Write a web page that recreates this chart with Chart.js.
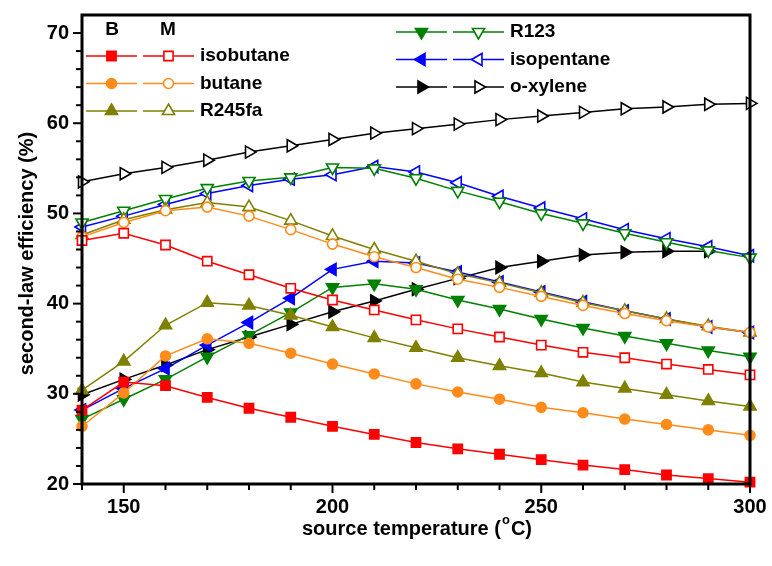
<!DOCTYPE html>
<html>
<head>
<meta charset="utf-8">
<script src="https://cdn.jsdelivr.net/npm/chart.js@4.4.1/dist/chart.umd.min.js"></script>
<style>
  body { margin: 0; background: #fff; }
  #wrap { width: 772px; height: 566px; }
</style>
</head>
<body>
<div id="wrap"><canvas id="chart" width="772" height="566"></canvas></div>
<script>
// source temperature (C)
var temps = [140, 150, 160, 170, 180, 190, 200, 210, 220, 230, 240, 250, 260, 270, 280, 290, 300];

// B = filled markers, M = open markers
var isobutaneB = [28.2, 31.3, 30.9, 29.6, 28.4, 27.4, 26.4, 25.5, 24.6, 23.9, 23.3, 22.7, 22.1, 21.6, 21.0, 20.6, 20.2];
var isobutaneM = [47.0, 47.8, 46.5, 44.7, 43.2, 41.7, 40.4, 39.3, 38.2, 37.2, 36.3, 35.4, 34.6, 34.0, 33.3, 32.7, 32.1];
var butaneB = [26.4, 30.1, 34.2, 36.1, 35.6, 34.5, 33.3, 32.2, 31.1, 30.2, 29.4, 28.5, 27.9, 27.2, 26.6, 26.0, 25.4];
var butaneM = [47.4, 49.0, 50.3, 50.7, 49.7, 48.2, 46.6, 45.2, 44.0, 42.7, 41.8, 40.8, 39.8, 38.9, 38.1, 37.4, 36.8];
var r245faB = [30.4, 33.6, 37.6, 40.1, 39.8, 38.7, 37.4, 36.2, 35.1, 34.0, 33.1, 32.3, 31.3, 30.6, 29.9, 29.2, 28.6];
var r245faM = [47.6, 49.3, 50.4, 51.2, 50.7, 49.2, 47.5, 46.0, 44.7, 43.3, 42.3, 41.2, 40.1, 39.2, 38.3, 37.5, 36.8];
var r123B = [27.2, 29.4, 31.6, 34.1, 36.5, 39.0, 41.8, 42.2, 41.6, 40.4, 39.4, 38.3, 37.3, 36.4, 35.6, 34.8, 34.1];
var r123M = [49.0, 50.3, 51.6, 52.8, 53.6, 54.0, 55.1, 55.0, 53.9, 52.5, 51.3, 50.0, 48.9, 47.8, 46.8, 45.9, 45.1];
var isopentaneB = [28.2, 30.6, 32.8, 35.4, 37.9, 40.6, 43.8, 44.7, 44.5, 43.5, 42.4, 41.3, 40.2, 39.2, 38.3, 37.4, 36.8];
var isopentaneM = [48.5, 49.7, 51.0, 52.2, 53.1, 53.8, 54.3, 55.2, 54.6, 53.4, 51.9, 50.6, 49.4, 48.2, 47.2, 46.3, 45.3];
var oxyleneB = [29.9, 31.6, 33.2, 34.9, 36.3, 37.7, 39.1, 40.3, 41.6, 42.8, 44.0, 44.7, 45.4, 45.7, 45.8, 45.8, null];
var oxyleneM = [53.5, 54.4, 55.1, 55.9, 56.8, 57.5, 58.2, 58.9, 59.4, 59.9, 60.4, 60.8, 61.2, 61.6, 61.8, 62.1, 62.2];

var xTickLabels = [150, 200, 250, 300];
var yTickLabels = [20, 30, 40, 50, 60, 70];

var fluids = [
  { name: 'isobutane', color: '#ff0000', style: 'rect', rot: 0, r: 6.5, B: isobutaneB, M: isobutaneM },
  { name: 'butane', color: '#ff8c1a', style: 'circle', rot: 0, r: 5, B: butaneB, M: butaneM },
  { name: 'R245fa', color: '#808000', style: 'triangle', rot: 0, r: 7, B: r245faB, M: r245faM },
  { name: 'R123', color: '#008000', style: 'triangle', rot: 180, r: 7, B: r123B, M: r123M },
  { name: 'isopentane', color: '#0000ff', style: 'triangle', rot: -90, r: 7, B: isopentaneB, M: isopentaneM },
  { name: 'o-xylene', color: '#000000', style: 'triangle', rot: 90, r: 7, B: oxyleneB, M: oxyleneM }
];

function pts(vals) {
  return temps.map(function(t, i) { return { x: t, y: vals[i] }; });
}

var datasets = [];
fluids.forEach(function(f) {
  [['B', true], ['M', false]].forEach(function(k) {
    datasets.push({
      label: f.name + ' ' + k[0],
      data: pts(f[k[0]]),
      borderColor: f.color,
      borderWidth: 1.5,
      pointStyle: f.style,
      pointRotation: f.rot,
      pointRadius: f.r,
      pointHoverRadius: f.r,
      pointBorderWidth: 1.6,
      pointBorderColor: f.color,
      pointBackgroundColor: k[1] ? f.color : '#ffffff',
      tension: 0,
      clip: false,
      spanGaps: false
    });
  });
});

var ff = '"Liberation Sans", Arial, sans-serif';
var tickFont = { family: ff, size: 20, weight: 'bold' };

// frame, outward ticks, axis titles and the two-column legend
var decor = {
  id: 'decor',
  afterDraw: function(chart) {
    var ctx = chart.ctx;
    var a = chart.chartArea;
    var xs = chart.scales.x, ys = chart.scales.y;
    ctx.save();
    ctx.strokeStyle = '#000';
    ctx.lineWidth = 2;
    for (var t = 140; t <= 300; t += 10) {
      var px = xs.getPixelForValue(t);
      ctx.beginPath();
      ctx.moveTo(px, a.bottom);
      ctx.lineTo(px, a.bottom + (t % 50 === 0 ? 9 : 6));
      ctx.stroke();
    }
    for (var v = 20; v <= 70; v += 2) {
      var py = ys.getPixelForValue(v);
      ctx.beginPath();
      ctx.moveTo(a.left, py);
      ctx.lineTo(a.left - (v % 10 === 0 ? 9 : 6), py);
      ctx.stroke();
    }
    ctx.lineWidth = 3;
    ctx.strokeRect(a.left, a.top, a.right - a.left, a.bottom - a.top);

    // axis titles
    ctx.fillStyle = '#000';
    ctx.textBaseline = 'middle';
    var p1 = 'source temperature (', sup = 'o', p2 = 'C)';
    ctx.font = 'bold 20px ' + ff;
    var w1 = ctx.measureText(p1).width, w2 = ctx.measureText(p2).width;
    ctx.font = 'bold 13px ' + ff;
    var ws = ctx.measureText(sup).width;
    var x0 = (a.left + a.right) / 2 - (w1 + ws + w2) / 2;
    ctx.textAlign = 'left';
    ctx.font = 'bold 20px ' + ff;
    ctx.fillText(p1, x0, 529);
    ctx.font = 'bold 13px ' + ff;
    ctx.fillText(sup, x0 + w1 + 1, 520);
    ctx.font = 'bold 20px ' + ff;
    ctx.fillText(p2, x0 + w1 + ws + 2, 529);

    ctx.save();
    ctx.translate(27, (a.top + a.bottom) / 2 + 4);
    ctx.rotate(-Math.PI / 2);
    ctx.textAlign = 'center';
    ctx.fillText('second-law efficiency (%)', 0, 0);
    ctx.restore();

    // legend
    ctx.font = 'bold 19px ' + ff;
    ctx.textAlign = 'center';
    ctx.fillText('B', 112, 30);
    ctx.fillText('M', 168, 30);
    var cols = [
      { bx: 86, mx: 143, ty: 56, tx: 200 },
      { bx: 396, mx: 453, ty: 32, tx: 510 }
    ];
    fluids.forEach(function(f, i) {
      var c = cols[Math.floor(i / 3)];
      var y = c.ty + (i % 3) * 27.5;
      [[c.bx, true], [c.mx, false]].forEach(function(s) {
        ctx.strokeStyle = f.color;
        ctx.lineWidth = 1.5;
        ctx.beginPath();
        ctx.moveTo(s[0], y);
        ctx.lineTo(s[0] + 51, y);
        ctx.stroke();
        ctx.fillStyle = s[1] ? f.color : '#ffffff';
        ctx.lineWidth = 1.6;
        Chart.helpers.drawPoint(ctx, {
          pointStyle: f.style, rotation: f.rot, radius: f.r, borderWidth: 1.6
        }, s[0] + 25.5, y);
      });
      ctx.fillStyle = '#000';
      ctx.textAlign = 'left';
      ctx.fillText(f.name, c.tx, y);
    });
    ctx.restore();
  }
};

new Chart(document.getElementById('chart').getContext('2d'), {
  type: 'line',
  data: { datasets: datasets },
  options: {
    responsive: false,
    animation: false,
    layout: { padding: { left: 0, right: 22, top: 15, bottom: 0 } },
    plugins: { legend: { display: false }, tooltip: { enabled: false } },
    scales: {
      x: {
        type: 'linear',
        min: 140, max: 300,
        grid: { display: false, drawTicks: false },
        border: { display: false },
        afterBuildTicks: function(s) {
          s.ticks = xTickLabels.map(function(v) { return { value: v }; });
        },
        afterFit: function(s) {
          s.height = 82;
          s.paddingLeft = 0;
          s.paddingRight = 0;
        },
        ticks: { color: '#000', font: tickFont, padding: 11, maxRotation: 0 }
      },
      y: {
        min: 20, max: 72,
        grid: { display: false, drawTicks: false },
        border: { display: false },
        afterBuildTicks: function(s) {
          s.ticks = yTickLabels.map(function(v) { return { value: v }; });
        },
        afterFit: function(s) {
          s.width = 82;
          s.paddingTop = 0;
          s.paddingBottom = 0;
        },
        ticks: { color: '#000', font: tickFont, padding: 13 }
      }
    }
  },
  plugins: [decor]
});
</script>
</body>
</html>
